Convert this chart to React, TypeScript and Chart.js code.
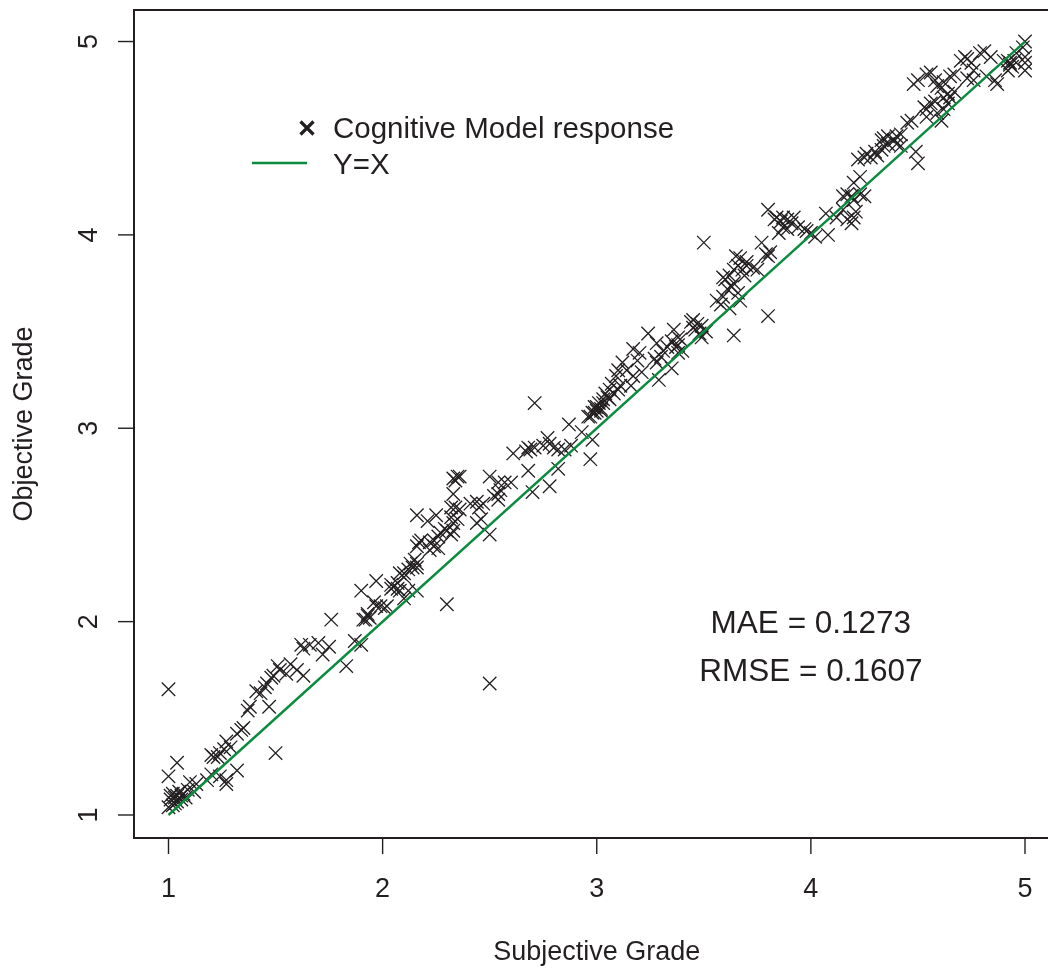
import React, { useEffect, useRef } from 'react';
import { Chart, registerables } from 'chart.js';

Chart.register(...registerables);

// ---------- data ----------
const subjective = [
  1.00, 1.50, 2.30, 1.76, 1.90, 1.97, 1.83, 1.87, 1.90, 1.93, 1.92, 1.97, 2.01, 2.04, 2.07, 2.10, 2.14, 2.16, 2.16, 2.10,
  1.75, 1.72, 1.70, 1.66, 1.63, 1.62, 1.57, 1.60, 1.55, 1.52, 1.49, 1.51, 1.48, 1.46, 1.45, 1.63, 1.47, 1.41, 1.43, 1.38,
  1.37, 1.35, 1.34, 1.32, 1.29, 1.27, 1.26, 1.24, 1.23, 1.21, 1.20, 1.32, 1.27, 1.27, 1.24, 1.20, 1.18, 1.04, 1.00, 1.10,
  1.13, 1.09, 1.07, 1.06, 1.04, 1.03, 1.01, 1.02, 1.00, 1.06, 1.03, 1.01, 1.05, 1.08, 1.12, 1.04, 1.02,
  2.71, 2.35, 2.34, 2.36, 2.33, 2.33, 2.34, 2.36, 2.32, 2.32, 2.33, 2.35, 2.16, 2.21, 2.25, 2.29, 2.30, 2.32, 2.33, 2.27,
  2.26, 2.24, 2.22, 2.24, 2.26, 2.22, 2.17, 2.16, 2.18, 2.15, 2.13, 2.16, 2.12, 2.08, 2.10, 2.07, 2.05, 2.04, 2.08, 2.12,
  1.96, 1.99, 2.02, 1.93, 1.94, 1.91, 2.50, 2.44, 2.46, 2.41, 2.44, 2.47, 2.45, 2.50, 2.54, 2.55, 2.57, 2.54, 2.52, 2.60,
  2.54, 2.61, 2.68, 2.67, 2.69, 2.71, 2.77, 2.80, 2.82, 2.75, 2.78, 2.68, 2.70, 2.78, 2.82, 2.87, 2.93, 2.98, 2.97, 2.85,
  2.88, 2.99, 3.00, 3.02, 3.03, 3.06, 3.08, 3.10, 3.11, 2.97, 3.05, 2.50,
  3.50, 3.80, 3.64, 3.29, 3.35, 3.24, 3.28, 3.31, 3.33, 3.30, 3.27, 3.28, 3.17, 3.20, 3.19, 3.21, 3.17, 3.16, 3.14, 3.12,
  3.10, 3.09, 3.07, 3.06, 3.04, 3.03, 3.01, 2.99, 3.00, 3.02, 2.98, 2.96, 3.36, 3.38, 3.39, 3.38, 3.37, 3.35, 3.40, 3.38,
  3.44, 3.45, 3.47, 3.49, 3.46, 3.48, 3.49, 3.51, 3.45, 3.56, 3.58, 3.59, 3.61, 3.63, 3.64, 3.66, 3.67, 3.60, 3.59, 3.62,
  3.64, 3.66, 3.68, 3.69, 3.70, 3.65, 3.67, 3.70, 3.73, 3.75, 3.77, 3.79, 3.80, 3.81, 3.62, 3.80, 3.83, 3.84, 3.86, 3.87,
  3.89, 3.91, 3.92, 3.87, 3.85, 3.89, 3.94, 3.97, 3.98, 4.00, 4.02, 4.08, 4.07, 4.12, 4.15, 4.17, 4.19, 4.20, 4.19,
  4.15, 4.17, 4.20, 4.23, 4.25, 4.21, 4.20, 4.23, 4.22, 4.25, 4.26, 4.28, 4.30, 4.31, 4.33, 4.34, 4.36, 4.33, 4.34, 4.36,
  4.39, 4.40, 4.42, 4.40, 4.42, 4.49, 4.50, 4.45, 4.47, 4.53, 4.54, 4.56, 4.58, 4.59, 4.61, 4.54, 4.62, 4.64, 4.65, 4.67,
  4.64, 4.62, 4.48, 4.50, 4.54, 4.56, 4.58, 4.59, 4.61, 4.62, 4.65, 4.67, 4.70, 4.72, 4.73, 4.75, 4.76, 4.73, 4.76, 4.79,
  4.81, 4.84, 4.82, 4.86, 4.87, 4.90, 4.92, 4.93, 4.93, 4.94, 4.95, 4.92, 4.96, 4.99, 5.00, 5.00, 5.00, 5.00,
];

const objective = [
  1.65, 1.32, 2.09, 2.01, 2.16, 2.21, 1.77, 1.90, 1.88, 2.03, 2.01, 2.08, 2.07, 2.19, 2.17, 2.25, 2.28, 2.30, 2.16, 2.12,
  1.87, 1.83, 1.89, 1.88, 1.86, 1.88, 1.78, 1.75, 1.73, 1.75, 1.72, 1.77, 1.71, 1.68, 1.66, 1.72, 1.56, 1.64, 1.63, 1.56,
  1.54, 1.45, 1.44, 1.42, 1.35, 1.38, 1.34, 1.32, 1.30, 1.30, 1.31, 1.23, 1.18, 1.16, 1.20, 1.21, 1.18, 1.27, 1.20, 1.17,
  1.16, 1.13, 1.11, 1.10, 1.10, 1.09, 1.08, 1.05, 1.04, 1.08, 1.06, 1.10, 1.12, 1.09, 1.12, 1.07, 1.11,
  3.13, 2.75, 2.73, 2.75, 2.74, 2.66, 2.59, 2.58, 2.59, 2.54, 2.51, 2.53, 2.55, 2.52, 2.55, 2.48, 2.47, 2.45, 2.47, 2.46,
  2.44, 2.42, 2.41, 2.39, 2.38, 2.37, 2.41, 2.39, 2.42, 2.32, 2.30, 2.28, 2.27, 2.25, 2.23, 2.20, 2.18, 2.17, 2.16, 2.16,
  2.10, 2.08, 2.08, 2.04, 2.02, 2.01, 2.45, 2.51, 2.53, 2.61, 2.62, 2.61, 2.59, 2.75, 2.72, 2.68, 2.72, 2.66, 2.65, 2.72,
  2.63, 2.87, 2.90, 2.88, 2.89, 2.90, 2.95, 2.90, 2.89, 2.91, 2.92, 2.78, 2.67, 2.70, 2.79, 3.02, 2.98, 2.94, 2.84, 2.89,
  2.91, 3.08, 3.11, 3.09, 3.13, 3.15, 3.18, 3.20, 3.22, 3.06, 3.16, 1.68,
  3.96, 3.58, 3.48, 3.25, 3.31, 3.49, 3.44, 3.40, 3.42, 3.37, 3.36, 3.34, 3.41, 3.39, 3.35, 3.29, 3.27, 3.22, 3.30, 3.34,
  3.30, 3.27, 3.23, 3.20, 3.18, 3.15, 3.13, 3.11, 3.09, 3.10, 3.08, 3.06, 3.51, 3.47, 3.46, 3.43, 3.42, 3.45, 3.40, 3.39,
  3.55, 3.56, 3.54, 3.53, 3.51, 3.49, 3.47, 3.50, 3.52, 3.66, 3.64, 3.68, 3.72, 3.73, 3.75, 3.70, 3.66, 3.77, 3.78, 3.79,
  3.82, 3.84, 3.82, 3.79, 3.84, 3.89, 3.88, 3.86, 3.83, 3.82, 3.96, 3.90, 3.89, 3.91, 3.62, 4.13, 4.08, 4.09, 4.07, 4.09,
  4.08, 4.06, 4.09, 4.04, 4.01, 4.03, 4.04, 4.03, 4.02, 4.01, 3.99, 4.00, 4.11, 4.09, 4.13, 4.08, 4.06, 4.09, 4.20,
  4.20, 4.21, 4.18, 4.21, 4.20, 4.12, 4.27, 4.30, 4.39, 4.40, 4.42, 4.40, 4.43, 4.41, 4.44, 4.46, 4.47, 4.49, 4.50, 4.51,
  4.49, 4.47, 4.46, 4.51, 4.52, 4.43, 4.37, 4.58, 4.59, 4.66, 4.65, 4.68, 4.69, 4.63, 4.59, 4.61, 4.71, 4.73, 4.71, 4.74,
  4.68, 4.65, 4.78, 4.80, 4.83, 4.84, 4.80, 4.77, 4.76, 4.79, 4.82, 4.83, 4.90, 4.92, 4.91, 4.89, 4.85, 4.81, 4.80, 4.94,
  4.95, 4.92, 4.82, 4.80, 4.78, 4.90, 4.90, 4.88, 4.89, 4.87, 4.90, 4.85, 4.94, 4.97, 5.00, 4.92, 4.89, 4.85,
];

const identityLine = [1, 5];
const xTicks = [1, 2, 3, 4, 5];
const yTicks = [1, 2, 3, 4, 5];
const xTitle = 'Subjective Grade';
const yTitle = 'Objective Grade';
const legendLabels = ['Cognitive Model response', 'Y=X'];
const statLabels = ['MAE = 0.1273', 'RMSE = 0.1607'];
const statX = [4, 4];
const statY = [2, 1.75];

// ---------- style ----------
const FONT = '"Liberation Sans", Arial, Helvetica, sans-serif';
const INK = '#231f20';
const GREEN = '#0a8b3e';

const rStylePlugin = {
  id: 'rStyle',
  afterDraw(chart: any) {
    const ctx = chart.ctx as CanvasRenderingContext2D;
    const { left, top, bottom, right } = chart.chartArea;
    const xs = chart.scales.x;
    const ys = chart.scales.y;
    ctx.save();
    ctx.strokeStyle = INK;
    ctx.fillStyle = INK;

    // box (right side lies beyond the canvas)
    ctx.lineWidth = 2;
    ctx.beginPath();
    ctx.moveTo(right + 10, top);
    ctx.lineTo(left, top);
    ctx.lineTo(left, bottom);
    ctx.lineTo(right + 10, bottom);
    ctx.stroke();

    // x axis ticks + labels
    ctx.lineWidth = 1.4;
    ctx.font = `27px ${FONT}`;
    ctx.textAlign = 'center';
    ctx.textBaseline = 'alphabetic';
    xTicks.forEach((v) => {
      const px = xs.getPixelForValue(v);
      ctx.beginPath();
      ctx.moveTo(px, bottom);
      ctx.lineTo(px, bottom + 16);
      ctx.stroke();
      ctx.fillText(String(v), px, bottom + 59);
    });

    // y axis ticks + rotated labels
    yTicks.forEach((v) => {
      const py = ys.getPixelForValue(v);
      ctx.beginPath();
      ctx.moveTo(left, py);
      ctx.lineTo(left - 16, py);
      ctx.stroke();
      ctx.save();
      ctx.translate(left - 37.3, py);
      ctx.rotate(-Math.PI / 2);
      ctx.fillText(String(v), 0, 0);
      ctx.restore();
    });

    // axis titles
    ctx.fillText(xTitle, xs.getPixelForValue(3), bottom + 122);
    ctx.save();
    ctx.translate(32, (top + bottom) / 2);
    ctx.rotate(-Math.PI / 2);
    ctx.fillText(yTitle, 0, 0);
    ctx.restore();

    // legend
    const mx = 307, my = 128, ms = 6.5;
    ctx.lineWidth = 3.2;
    ctx.beginPath();
    ctx.moveTo(mx - ms, my - ms);
    ctx.lineTo(mx + ms, my + ms);
    ctx.moveTo(mx + ms, my - ms);
    ctx.lineTo(mx - ms, my + ms);
    ctx.stroke();
    ctx.strokeStyle = GREEN;
    ctx.lineWidth = 2.5;
    ctx.beginPath();
    ctx.moveTo(252, 163);
    ctx.lineTo(307, 163);
    ctx.stroke();
    ctx.font = `29.5px ${FONT}`;
    ctx.textAlign = 'left';
    ctx.fillText(legendLabels[0], 333, 138);
    ctx.fillText(legendLabels[1], 333, 174);

    // statistics
    ctx.font = `31.5px ${FONT}`;
    ctx.textAlign = 'center';
    statLabels.forEach((s, i) => {
      ctx.fillText(s, xs.getPixelForValue(statX[i]), ys.getPixelForValue(statY[i]) + 11.5);
    });

    ctx.restore();
  },
};

export default function App() {
  const ref = useRef<HTMLCanvasElement | null>(null);

  useEffect(() => {
    document.body.style.margin = '0';
    const canvas = ref.current;
    if (!canvas) return;
    const chart = new Chart(canvas, {
      type: 'scatter',
      data: {
        datasets: [
          {
            label: legendLabels[1],
            data: identityLine.map((v) => ({ x: v, y: v })),
            showLine: true,
            borderColor: GREEN,
            borderWidth: 2.4,
            pointRadius: 0,
            order: 0,
          } as any,
          {
            label: legendLabels[0],
            data: subjective.map((x, i) => ({ x, y: objective[i] })),
            pointStyle: 'crossRot',
            pointRadius: 9.5,
            borderColor: INK,
            backgroundColor: INK,
            borderWidth: 1.3,
            order: 1,
          } as any,
        ],
      },
      options: {
        animation: false,
        responsive: false,
        events: [],
        layout: { autoPadding: false, padding: { left: 134, top: 10, right: 0, bottom: 130 } },
        scales: {
          x: { type: 'linear', min: 0.8389, max: 5.1074, display: false },
          y: { type: 'linear', min: 0.881, max: 5.163, display: false },
        },
        plugins: { legend: { display: false }, tooltip: { enabled: false } },
      },
      plugins: [rStylePlugin],
    });
    return () => chart.destroy();
  }, []);

  return (
    <canvas
      ref={ref}
      width={1048}
      height={968}
      style={{ display: 'block', width: 1048, height: 968, background: '#fff' }}
    />
  );
}
